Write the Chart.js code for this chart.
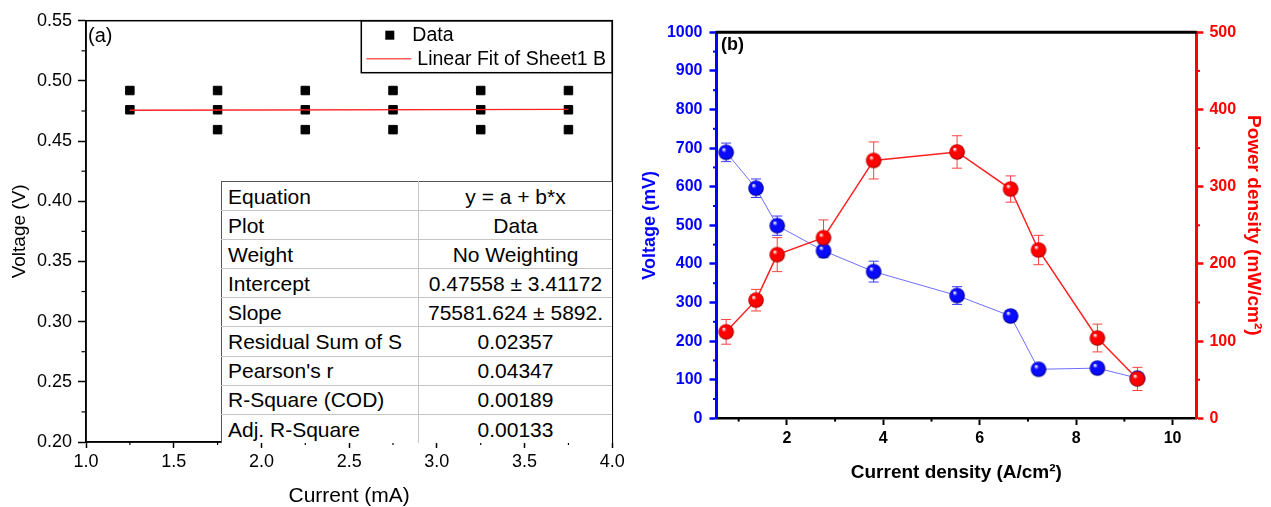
<!DOCTYPE html>
<html>
<head>
<meta charset="utf-8">
<script src="https://cdn.jsdelivr.net/npm/chart.js@4.4.1/dist/chart.umd.min.js"></script>
<style>
  body { margin: 0; background: #fff; width: 1271px; height: 507px; overflow: hidden; position: relative;
         font-family: "Liberation Sans", Arial, sans-serif; }
  canvas { position: absolute; top: 0; }
  #ca { left: 0; }
  #cb { left: 630px; }
  #fit { position: absolute; left: 221px; top: 181px; width: 391px; border-collapse: collapse;
         table-layout: fixed; font-size: 21px; color: #000; background: #fff; z-index: 2; }
  #fit td { border: 1px solid #c4c4c4; padding: 0; line-height: 1; white-space: nowrap; overflow: hidden; }
  #fit tr { height: 29.1px; }
  #fit td:first-child { padding-left: 6px; border-left: 1.5px solid #555; }
  #fit td:last-child { text-align: center; border-right: none; }
  #fit tr:first-child td { border-top: 1.5px solid #555; }
  #fit tr:last-child td { border-bottom: none; }
</style>
</head>
<body>
<canvas id="ca" width="640" height="507"></canvas>
<canvas id="cb" width="641" height="507"></canvas>
<table id="fit"><colgroup><col style="width:197px"><col></colgroup><tbody></tbody></table>
<script>
/* ===== DATA (a) ===== */
const currentA = [1.25, 1.75, 2.25, 2.75, 3.25, 3.75];
const voltHigh = [0.492, 0.492, 0.492, 0.492, 0.492, 0.492];
const voltMid = [0.476, 0.476, 0.476, 0.476, 0.476, 0.476];
const voltLow = [null, 0.4595, 0.4595, 0.4595, 0.4595, 0.4595];
const fitX = [1.25, 3.75];
const fitY = [0.4756, 0.4764];
const xTicksA = [1.0, 1.5, 2.0, 2.5, 3.0, 3.5, 4.0];
const yTicksA = [0.20, 0.25, 0.30, 0.35, 0.40, 0.45, 0.50, 0.55];
const fitLabels = ["Equation", "Plot", "Weight", "Intercept", "Slope",
  "Residual Sum of S", "Pearson's r", "R-Square (COD)", "Adj. R-Square"];
const fitValues = ["y = a + b*x", "Data", "No Weighting", "0.47558 ± 3.41172",
  "75581.624 ± 5892.", "0.02357", "0.04347", "0.00189", "0.00133"];

/* ===== DATA (b) ===== */
const currentDensity = [0.74, 1.36, 1.80, 2.76, 3.80, 5.53, 6.64, 7.22, 8.44, 9.27];
const voltage = [689, 596, 499, 434, 380, 318, 265, 127, 130, 104];
const voltageErr = [24, 24, 25, 18, 27, 23, 14, 10, 10, 12];
const power = [112, 153, 212, 234, 334, 345, 297, 218, 104, 51];
const powerErr = [16, 14, 22, 23, 24, 21, 17, 19, 18, 15];
const xTicksB = [2, 4, 6, 8, 10];
const vTicksB = [0, 100, 200, 300, 400, 500, 600, 700, 800, 900, 1000];
const pTicksB = [0, 100, 200, 300, 400, 500];

Chart.defaults.font.family = '"Liberation Sans", Arial, sans-serif';
Chart.defaults.color = "#000";

/* table */
const tbody = document.querySelector("#fit tbody");
fitLabels.forEach((lab, i) => {
  const tr = document.createElement("tr");
  tr.innerHTML = "<td>" + lab + "</td><td>" + fitValues[i] + "</td>";
  tbody.appendChild(tr);
});

/* helpers */
const useTicks = (vals) => (s) => { s.ticks = vals.map((v) => ({ value: v })); };
const fixW = (w) => (s) => { s.width = w; };
const fixH = (h) => (s) => { s.height = h; };
const plain = (v) => String(v);

/* minor ticks half way between major ones */
const minorTicks = {
  id: "minorTicks",
  afterDraw(chart, args, opts) {
    const ctx = chart.ctx;
    const area = chart.chartArea;
    Object.keys(opts.scales || {}).forEach((id) => {
      const s = chart.scales[id];
      const o = opts.scales[id];
      const t = s.ticks.map((k) => k.value);
      if (t.length < 2) return;
      const half = (t[1] - t[0]) / 2;
      ctx.save();
      ctx.strokeStyle = o.color;
      ctx.lineWidth = o.width;
      for (let v = t[0] - half; v <= s.max + 1e-9; v += 2 * half) {
        if (v < s.min - 1e-9) continue;
        const p = s.getPixelForValue(v);
        ctx.beginPath();
        if (s.position === "bottom") { ctx.moveTo(p, area.bottom); ctx.lineTo(p, area.bottom + o.len); }
        else if (s.position === "left") { ctx.moveTo(area.left, p); ctx.lineTo(area.left - o.len, p); }
        else { ctx.moveTo(area.right, p); ctx.lineTo(area.right + o.len, p); }
        ctx.stroke();
      }
      ctx.restore();
    });
  },
};

/* frame, panel tag and boxed legend */
const decor = {
  id: "decor",
  afterDraw(chart, args, opts) {
    const ctx = chart.ctx;
    const a = chart.chartArea;
    ctx.save();
    ctx.strokeStyle = "#000";
    if (opts.frame) {
      ctx.lineWidth = opts.frame;
      ctx.strokeRect(a.left, a.top, a.right - a.left, a.bottom - a.top);
    }
    if (opts.topLine) {
      ctx.lineWidth = opts.topLine;
      ctx.beginPath(); ctx.moveTo(a.left, a.top); ctx.lineTo(a.right, a.top); ctx.stroke();
    }
    if (opts.tag) {
      ctx.fillStyle = "#000";
      ctx.font = opts.tag.font;
      ctx.textBaseline = "middle";
      ctx.fillText(opts.tag.text, a.left + opts.tag.dx, a.top + opts.tag.dy);
    }
    if (opts.legend) {
      const L = opts.legend;
      const x0 = a.right - L.w, y0 = a.top;
      ctx.lineWidth = 1.5;
      ctx.strokeRect(x0, y0, L.w, L.h);
      ctx.font = L.font;
      ctx.textBaseline = "middle";
      const ds = chart.data.datasets;
      ctx.fillStyle = ds[0].backgroundColor;
      ctx.fillRect(x0 + 24, y0 + 10, 9, 9);
      ctx.fillStyle = "#000";
      ctx.fillText(ds[0].label, x0 + 51, y0 + 15);
      ctx.strokeStyle = "#ff5a5a";
      ctx.lineWidth = 1.5;
      ctx.beginPath(); ctx.moveTo(x0 + 5, y0 + 38); ctx.lineTo(x0 + 50, y0 + 38); ctx.stroke();
      ctx.fillText(ds[ds.length - 1].label, x0 + 56, y0 + 39);
    }
    ctx.restore();
  },
};

/* error bars behind markers */
const errorBars = {
  id: "errorBars",
  beforeDatasetsDraw(chart) {
    const ctx = chart.ctx;
    chart.data.datasets.forEach((ds, i) => {
      if (!ds.errors) return;
      const ys = chart.scales[ds.yAxisID];
      const meta = chart.getDatasetMeta(i);
      ctx.save();
      ctx.strokeStyle = ds.errorColor;
      ctx.lineWidth = 1;
      meta.data.forEach((pt, j) => {
        const v = ds.data[j].y, e = ds.errors[j];
        const t = ys.getPixelForValue(v + e), b = ys.getPixelForValue(v - e);
        ctx.beginPath();
        ctx.moveTo(pt.x, t); ctx.lineTo(pt.x, b);
        ctx.moveTo(pt.x - 5, t); ctx.lineTo(pt.x + 5, t);
        ctx.moveTo(pt.x - 5, b); ctx.lineTo(pt.x + 5, b);
        ctx.stroke();
      });
      ctx.restore();
    });
  },
};

function sphere(base, dark, r) {
  const c = document.createElement("canvas");
  const s = Math.ceil(r * 2 + 2);
  c.width = c.height = s;
  const g = c.getContext("2d");
  const cx = s / 2, cy = s / 2;
  const grad = g.createRadialGradient(cx - r * 0.35, cy - r * 0.4, r * 0.05, cx, cy, r);
  grad.addColorStop(0, "#ffffff");
  grad.addColorStop(0.28, base);
  grad.addColorStop(0.8, base);
  grad.addColorStop(1, dark);
  g.fillStyle = grad;
  g.beginPath(); g.arc(cx, cy, r, 0, Math.PI * 2); g.fill();
  return c;
}

/* ===== (a) SCATTER + LINEAR FIT ===== */
const scatterPts = [];
currentA.forEach((x, i) => {
  [voltHigh[i], voltMid[i], voltLow[i]].forEach((y) => { if (y !== null) scatterPts.push({ x, y }); });
});

new Chart(document.getElementById("ca"), {
  type: "scatter",
  data: {
    datasets: [
      {
        label: "Data",
        data: scatterPts,
        pointStyle: "rect",
        pointRadius: 6,
        backgroundColor: "#000",
        borderColor: "#000",
        borderWidth: 1,
      },
      {
        type: "line",
        label: "Linear Fit of Sheet1 B",
        data: fitX.map((x, i) => ({ x, y: fitY[i] })),
        borderColor: "#ff2020",
        borderWidth: 1.3,
        pointRadius: 0,
        order: -1,
      },
    ],
  },
  options: {
    responsive: false,
    animation: false,
    devicePixelRatio: 1,
    layout: { padding: { top: 20.7, right: 27.7, left: 0, bottom: 0 } },
    plugins: {
      legend: { display: false },
      tooltip: { enabled: false },
      minorTicks: { scales: { x: { len: 3, color: "#000", width: 1.2 }, y: { len: 4.5, color: "#000", width: 1.2 } } },
      decor: {
        frame: 1.5,
        tag: { text: "(a)", font: "20px 'Liberation Sans', Arial", dx: 2, dy: 16 },
        legend: { w: 251, h: 52, font: "19.5px 'Liberation Sans', Arial" },
      },
    },
    scales: {
      x: {
        type: "linear", min: 1, max: 4,
        afterBuildTicks: useTicks(xTicksA),
        afterFit: fixH(65),
        ticks: { autoSkip: false, maxRotation: 0, padding: 3, font: { size: 18 }, color: "#000", callback: (v) => v.toFixed(1) },
        grid: { drawOnChartArea: false, tickLength: 6, tickColor: "#000", tickWidth: 1.5 },
        border: { color: "#000", width: 1.5 },
        title: { display: true, text: "Current (mA)", font: { size: 21, lineHeight: 1 }, color: "#000", padding: { top: 0, bottom: 0 } },
      },
      y: {
        type: "linear", min: 0.2, max: 0.55,
        afterBuildTicks: useTicks(yTicksA),
        afterFit: fixW(86),
        ticks: { autoSkip: false, padding: 6, font: { size: 18 }, color: "#000", callback: (v) => v.toFixed(2) },
        grid: { drawOnChartArea: false, tickLength: 8, tickColor: "#000", tickWidth: 1.5 },
        border: { color: "#000", width: 1.5 },
        title: { display: true, text: "Voltage (V)", font: { size: 19, lineHeight: 1.2 }, color: "#000", padding: { top: 8.6, bottom: 0 } },
      },
    },
  },
  plugins: [minorTicks, decor],
});

/* ===== (b) VOLTAGE + POWER DENSITY ===== */
const blueBall = sphere("#0a0aff", "#00007a", 7.8);
const redBall = sphere("#ff0000", "#9a0000", 7.8);

new Chart(document.getElementById("cb"), {
  type: "line",
  data: {
    datasets: [
      {
        label: "Voltage",
        data: currentDensity.map((x, i) => ({ x, y: voltage[i] })),
        yAxisID: "y",
        errors: voltageErr,
        errorColor: "#3a3aff",
        borderColor: "#6e6eff",
        borderWidth: 1,
        pointStyle: blueBall,
        pointRadius: 8,
        order: 1,
      },
      {
        label: "Power density",
        data: currentDensity.map((x, i) => ({ x, y: power[i] })),
        yAxisID: "y1",
        errors: powerErr,
        errorColor: "#ff4040",
        borderColor: "#ff2020",
        borderWidth: 1.5,
        pointStyle: redBall,
        pointRadius: 8,
        order: 0,
      },
    ],
  },
  options: {
    responsive: false,
    animation: false,
    devicePixelRatio: 1,
    layout: { padding: { top: 32.3, right: 0, left: 0, bottom: 0 } },
    plugins: {
      legend: { display: false },
      tooltip: { enabled: false },
      minorTicks: {
        scales: {
          x: { len: 3.3, color: "#000", width: 2 },
          y: { len: 3, color: "#0000ff", width: 2 },
          y1: { len: 3.3, color: "#ff0000", width: 2 },
        },
      },
      decor: {
        topLine: 3,
        tag: { text: "(b)", font: "bold 18px 'Liberation Sans', Arial", dx: 5, dy: 12.5 },
      },
    },
    scales: {
      x: {
        type: "linear", min: 0.53, max: 10.5,
        afterBuildTicks: useTicks(xTicksB),
        afterFit: fixH(88.7),
        ticks: { autoSkip: false, maxRotation: 0, padding: 4.4, font: { size: 16, weight: "bold" }, color: "#000", callback: plain },
        grid: { drawOnChartArea: false, tickLength: 6.7, tickColor: "#000", tickWidth: 2 },
        border: { color: "#000", width: 2.5 },
        title: { display: true, text: "Current density (A/cm²)", font: { size: 19, weight: "bold" }, color: "#000", padding: { top: 0, bottom: 23.2 } },
      },
      y: {
        type: "linear", position: "left", min: 0, max: 1000,
        afterBuildTicks: useTicks(vTicksB),
        afterFit: fixW(86),
        ticks: { autoSkip: false, padding: 7, font: { size: 16, weight: "bold" }, color: "#0000ff", callback: plain },
        grid: { drawOnChartArea: false, tickLength: 6.5, tickColor: "#0000ff", tickWidth: 2.5 },
        border: { color: "#0000ff", width: 3 },
        title: { display: true, text: "Voltage (mV)", font: { size: 18, weight: "bold" }, color: "#0000ff", padding: { top: 9, bottom: 0 } },
      },
      y1: {
        type: "linear", position: "right", min: 0, max: 500,
        afterBuildTicks: useTicks(pTicksB),
        afterFit: fixW(74.3),
        ticks: { autoSkip: false, padding: 6, font: { size: 16, weight: "bold" }, color: "#ff0000", callback: plain },
        grid: { drawOnChartArea: false, tickLength: 6.7, tickColor: "#ff0000", tickWidth: 2.5 },
        border: { color: "#ff0000", width: 3 },
        title: { display: true, text: "Power density (mW/cm²)", font: { size: 19, weight: "bold" }, color: "#ff0000", padding: { top: 6, bottom: 0 } },
      },
    },
  },
  plugins: [errorBars, minorTicks, decor],
});
</script>
</body>
</html>
